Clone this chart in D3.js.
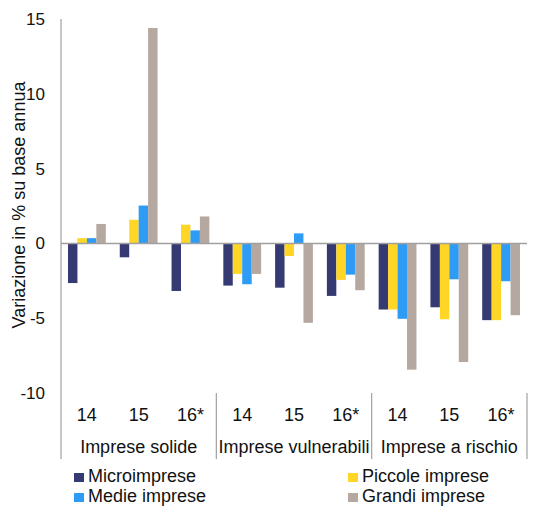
<!DOCTYPE html>
<html>
<head>
<meta charset="utf-8">
<script src="https://cdn.jsdelivr.net/npm/d3@7"></script>
<style>
  body { margin: 0; background: #fff; }
  text { font-family: "Liberation Sans", Arial, sans-serif; fill: #111; }
</style>
</head>
<body>
<div id="chart"></div>
<script>
// data
const groups = ['Imprese solide', 'Imprese vulnerabili', 'Imprese a rischio'];
const years = ['14', '15', '16*'];
const series = ['Microimprese', 'Piccole imprese', 'Medie imprese', 'Grandi imprese'];
const seriesColors = ['#363a73', '#ffd625', '#2e9bf5', '#b5a8a0'];
// one value per (group, year), for each series
const micro = [-2.65, -0.93, -3.18, -2.82, -2.96, -3.51, -4.42, -4.27, -5.13];
const piccole = [0.35, 1.58, 1.25, -2.04, -0.84, -2.44, -4.42, -5.07, -5.13];
const medie = [0.35, 2.53, 0.87, -2.73, 0.67, -2.09, -5.04, -2.40, -2.53];
const grandi = [1.3, 14.4, 1.8, -2.04, -5.31, -3.13, -8.44, -7.93, -4.8];
const yTicks = [15, 10, 5, 0, -5, -10];

const width = 536, height = 506;
const margin = { left: 61, right: 9, top: 19 };
const plotBottom = 393;

const cats = [];
groups.forEach((g, gi) => years.forEach((yr, yi) => cats.push({ key: gi + '-' + yi, group: g, year: yr })));
const values = [micro, piccole, medie, grandi];

const svg = d3.select('#chart').append('svg')
    .attr('width', width)
    .attr('height', height);

const x = d3.scaleBand()
    .domain(cats.map(d => d.key))
    .range([margin.left, width - margin.right])
    .paddingInner(0.27)
    .paddingOuter(0.135);

const xs = d3.scaleBand()
    .domain(series)
    .range([0, x.bandwidth()]);

const y = d3.scaleLinear()
    .domain([-10, 15])
    .range([plotBottom, margin.top]);

// bars
cats.forEach((c, ci) => {
    svg.append('g')
        .selectAll('rect')
        .data(series.map((s, si) => ({ s, si, v: values[si][ci] })))
        .enter()
        .append('rect')
        .attr('x', d => x(c.key) + xs(d.s))
        .attr('width', xs.bandwidth())
        .attr('y', d => y(Math.max(0, d.v)))
        .attr('height', d => Math.abs(y(d.v) - y(0)))
        .attr('fill', d => seriesColors[d.si]);
});

// zero line
svg.append('line')
    .attr('x1', margin.left).attr('x2', width - margin.right)
    .attr('y1', y(0)).attr('y2', y(0))
    .attr('stroke', '#a0a0a0').attr('stroke-width', 1.5);

// y axis line
svg.append('line')
    .attr('x1', margin.left).attr('x2', margin.left)
    .attr('y1', margin.top).attr('y2', 459)
    .attr('stroke', '#a0a0a0').attr('stroke-width', 1.2);

// y tick labels
svg.append('g')
    .selectAll('text')
    .data(yTicks)
    .enter()
    .append('text')
    .attr('x', 45)
    .attr('y', d => y(d))
    .attr('dy', '0.35em')
    .attr('text-anchor', 'end')
    .style('font-size', '17px')
    .text(d => d);

// y title
svg.append('text')
    .attr('transform', 'translate(25,205) rotate(-90)')
    .attr('text-anchor', 'middle')
    .style('font-size', '18px')
    .text('Variazione in % su base annua');

// year labels
svg.append('g')
    .selectAll('text')
    .data(cats)
    .enter()
    .append('text')
    .attr('x', d => x(d.key) + x.bandwidth() / 2)
    .attr('y', 421)
    .attr('text-anchor', 'middle')
    .style('font-size', '18px')
    .text(d => d.year);

// group labels and separators
const step = x.step();
groups.forEach((g, gi) => {
    const x0 = margin.left + gi * 3 * step;
    const x1 = margin.left + (gi + 1) * 3 * step;
    svg.append('text')
        .attr('x', (x0 + x1) / 2)
        .attr('y', 453)
        .attr('text-anchor', 'middle')
        .style('font-size', '18px')
        .text(g);
    svg.append('line')
        .attr('x1', x1).attr('x2', x1)
        .attr('y1', plotBottom).attr('y2', 459)
        .attr('stroke', '#a0a0a0').attr('stroke-width', 1.2);
});

// legend, two columns
const legendPos = [[74, 473], [348, 473], [74, 493], [348, 493]];
series.forEach((s, si) => {
    const [lx, ly] = legendPos[si];
    svg.append('rect')
        .attr('x', lx).attr('y', ly)
        .attr('width', 10).attr('height', 9)
        .attr('fill', seriesColors[si]);
    svg.append('text')
        .attr('x', lx + 14)
        .attr('y', ly + 9)
        .style('font-size', '18px')
        .text(s);
});
</script>
</body>
</html>
